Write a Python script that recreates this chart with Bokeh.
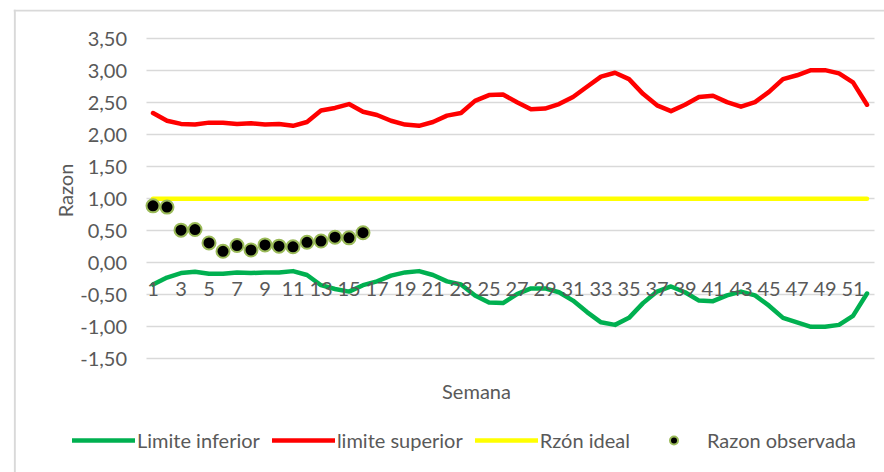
import math
from bokeh.plotting import figure
from bokeh.models import (Range1d, FixedTicker, LinearAxis, Legend, LegendItem,
                          Label, Span)
from bokeh.embed import file_html
from bokeh.resources import INLINE

# ---------------- data ----------------
weeks = list(range(1, 53))

limite_inferior = [
    -0.34, -0.23, -0.16, -0.14, -0.17, -0.17, -0.15, -0.16, -0.15, -0.15,
    -0.13, -0.19, -0.35, -0.41, -0.45, -0.35, -0.29, -0.20, -0.15, -0.13,
    -0.19, -0.29, -0.34, -0.51, -0.62, -0.63, -0.49, -0.40, -0.40, -0.46,
    -0.59, -0.77, -0.93, -0.97, -0.86, -0.63, -0.45, -0.37, -0.46, -0.59,
    -0.60, -0.51, -0.45, -0.51, -0.67, -0.86, -0.93, -1.00, -1.00, -0.97,
    -0.83, -0.48,
]

limite_superior = [
    2.34, 2.22, 2.17, 2.16, 2.19, 2.19, 2.17, 2.18, 2.16, 2.17,
    2.14, 2.20, 2.38, 2.42, 2.48, 2.36, 2.31, 2.22, 2.16, 2.14,
    2.20, 2.30, 2.34, 2.53, 2.62, 2.63, 2.51, 2.40, 2.41, 2.48,
    2.59, 2.75, 2.91, 2.97, 2.87, 2.64, 2.46, 2.37, 2.47, 2.59,
    2.61, 2.51, 2.44, 2.51, 2.67, 2.87, 2.93, 3.01, 3.01, 2.96,
    2.82, 2.47,
]

razon_ideal = [1.00] * len(weeks)

razon_observada = [0.89, 0.87, 0.51, 0.52, 0.31, 0.18, 0.27, 0.20,
                   0.28, 0.26, 0.25, 0.32, 0.34, 0.40, 0.39, 0.47]
obs_weeks = weeks[:len(razon_observada)]

x_ticks = weeks[::2]
y_ticks = [-1.5, -1.0, -0.5, 0.0, 0.5, 1.0, 1.5, 2.0, 2.5, 3.0, 3.5]
y_tick_labels = ["-1,50", "-1,00", "-0,50", "0,00", "0,50", "1,00",
                 "1,50", "2,00", "2,50", "3,00", "3,50"]

series_names = ["Limite inferior", "limite superior", "Rzón ideal", "Razon observada"]
x_title = "Semana"
y_title = "Razon"

# ---------------- layout constants (pixels, page coordinates) ----------------
OFF = 0                            # Bokeh's page template has no body margin
W, H = 884, 472
FRAME_L, FRAME_T = 13, 9           # frame starts where the chart border is
PX_WEEK = 14.0                     # width of one category
PX_UNIT = 64.0                     # pixels per unit of "Razon"
WEEK1_PX = 152.5 - OFF - FRAME_L   # position of week 1 inside the frame
ZERO_PX = 262.3 - OFF - FRAME_T    # position of 0 inside the frame
FW, FH = W - FRAME_L, H - FRAME_T

x0 = 1 - WEEK1_PX / PX_WEEK
x1 = x0 + FW / PX_WEEK
y1 = ZERO_PX / PX_UNIT
y0 = y1 - FH / PX_UNIT

def px_to_x(px):
    return x0 + (px - OFF - FRAME_L) / PX_WEEK

def px_to_y(py):
    return y1 - (py - OFF - FRAME_T) / PX_UNIT

# ---------------- style ----------------
FONT = "Lato"
FS = "20px"
TXT = "#595959"
GRID = "#D9D9D9"

p = figure(width=W, height=H,
           x_range=Range1d(x0, x1), y_range=Range1d(y0, y1),
           output_backend="svg", toolbar_location=None,
           x_axis_location=None, y_axis_location=None,
           min_border_left=FRAME_L, min_border_right=0,
           min_border_top=FRAME_T, min_border_bottom=0)
p.outline_line_color = None
p.background_fill_color = "white"
p.border_fill_color = "white"

# chart-area border (left and top are visible in the original)
p.add_layout(Span(location=px_to_x(14.3), dimension="height",
                  line_color=GRID, line_width=2))
p.add_layout(Span(location=px_to_y(9.9), dimension="width",
                  line_color=GRID, line_width=2))

# grid lines only across the plot area
p.ygrid.ticker = FixedTicker(ticks=y_ticks)
p.ygrid.grid_line_color = GRID
p.ygrid.grid_line_width = 1.3
p.ygrid.cross_bounds = (0.5, 52.5)
for g in p.xgrid:
    g.visible = False

# y axis at the left edge of the plot area
yaxis = LinearAxis(fixed_location=0.5, ticker=FixedTicker(ticks=y_ticks),
                   major_label_overrides=dict(zip(y_ticks, y_tick_labels)),
                   axis_line_color=None, major_tick_line_color=None,
                   minor_tick_line_color=None, major_label_standoff=13,
                   major_label_text_font=FONT, major_label_text_font_size=FS,
                   major_label_text_color=TXT)
p.add_layout(yaxis, "left")

# x axis labels drawn at the zero line, like the original
xaxis = LinearAxis(fixed_location=0, ticker=FixedTicker(ticks=x_ticks),
                   axis_line_color=None, major_tick_line_color=None,
                   minor_tick_line_color=None, major_label_standoff=13,
                   major_label_text_font=FONT, major_label_text_font_size=FS,
                   major_label_text_color=TXT)
p.add_layout(xaxis, "below")

p.add_layout(Label(x=px_to_x(476), y=px_to_y(390), text=x_title,
                   text_align="center", text_baseline="middle",
                   text_font=FONT, text_font_size=FS, text_color=TXT))
p.add_layout(Label(x=px_to_x(64), y=px_to_y(190), text=y_title, angle=math.pi / 2,
                   text_align="center", text_baseline="middle",
                   text_font=FONT, text_font_size=FS, text_color=TXT))

# series
r_inf = p.line(weeks, limite_inferior, line_color="#00B050", line_width=4.5,
               line_cap="round", line_join="round")
r_sup = p.line(weeks, limite_superior, line_color="#FF0000", line_width=4.5,
               line_cap="round", line_join="round")
r_ideal = p.line(weeks, razon_ideal, line_color="#FFFF00", line_width=4.5,
                 line_cap="round", line_join="round")
r_obs = p.scatter(obs_weeks, razon_observada, size=13, fill_color="black",
                  line_color="#9BBB59", line_width=2)

legend = Legend(items=[LegendItem(label=series_names[0], renderers=[r_inf]),
                       LegendItem(label=series_names[1], renderers=[r_sup]),
                       LegendItem(label=series_names[2], renderers=[r_ideal]),
                       LegendItem(label=series_names[3], renderers=[r_obs])],
                orientation="horizontal",
                location=(72 - OFF - FRAME_L, H - (452 - OFF)),
                glyph_width=63, glyph_height=20, label_standoff=2, spacing=12,
                padding=0, margin=0, border_line_color=None,
                background_fill_alpha=0,
                label_text_font=FONT, label_text_font_size=FS,
                label_text_color=TXT)
p.add_layout(legend, "center")

open("out.html", "w").write(file_html(p, INLINE))
